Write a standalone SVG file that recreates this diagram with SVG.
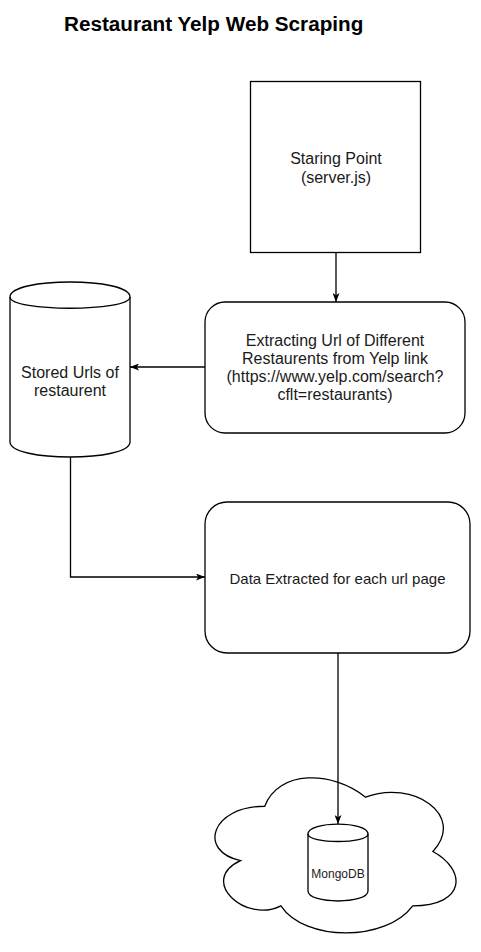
<svg xmlns="http://www.w3.org/2000/svg" width="481" height="952" viewBox="0 0 481 952">
<style>
.shape{fill:#fff;stroke:#000;stroke-width:1.3}
.line{fill:none;stroke:#000;stroke-width:1.3}
.t{font-family:"Liberation Sans",Arial,sans-serif;font-size:16px;fill:#1a1a1a;text-anchor:middle}
.title{font-family:"Liberation Sans",Arial,sans-serif;font-size:20.7px;font-weight:bold;fill:#000}
</style>
<defs>
<marker id="arr" viewBox="0 0 9 7" refX="9" refY="3.5" markerWidth="9" markerHeight="7" markerUnits="userSpaceOnUse" orient="auto">
<path d="M0,0 L9,3.5 L0,7 L2.2,3.5 Z" fill="#000"/>
</marker>
</defs>
<rect width="481" height="952" fill="#fff"/>
<text class="title" x="64" y="31">Restaurant Yelp Web Scraping</text>

<g id="start">
<rect class="shape" x="250.5" y="81.5" width="170" height="171"/>
<text class="t" x="336" y="164">Staring Point</text>
<text class="t" x="336" y="183">(server.js)</text>
</g>

<g id="extract">
<rect class="shape" x="205" y="302" width="260" height="131" rx="20" ry="20"/>
<text class="t" x="335" y="346">Extracting Url of Different</text>
<text class="t" x="335" y="364">Restaurents from Yelp link</text>
<text class="t" x="335" y="382">(https://www.yelp.com/search?</text>
<text class="t" x="335" y="400">cflt=restaurants)</text>
</g>

<g id="stored">
<path class="shape" d="M10,297 C10,277 130,277 130,297 L130,442 C130,462 10,462 10,442 Z"/>
<path class="line" d="M10,297 C10,312 130,312 130,297"/>
<text class="t" x="70" y="378">Stored Urls of</text>
<text class="t" x="70" y="396">restaurent</text>
</g>

<g id="data">
<rect class="shape" x="205" y="502" width="265" height="151" rx="22" ry="22"/>
<text class="t" x="337.5" y="584" style="font-size:15px">Data Extracted for each url page</text>
</g>

<g id="cloud">
<path class="shape" d="M264.75,806.25 C210.95,806.25 197.5,851.5 240.54,860.55 C197.5,880.46 245.92,923.9 280.89,905.8 C305.1,942 385.8,942 412.7,905.8 C466.5,905.8 466.5,869.6 432.9,851.5 C466.5,815.3 412.7,779.1 365.6,797.2 C332,770.05 278.2,770.05 264.75,806.25 Z"/>
</g>

<g id="mongodb">
<path class="shape" d="M308,834 C308,820.7 368,820.7 368,834 L368,891 C368,904.3 308,904.3 308,891 Z"/>
<path class="line" d="M308,834 C308,844 368,844 368,834"/>
<text class="t" x="338" y="878" style="font-size:12px">MongoDB</text>
</g>

<g id="connectors">
<path class="line" d="M336,253 L336,302" marker-end="url(#arr)"/>
<path class="line" d="M205,367 L130,367" marker-end="url(#arr)"/>
<path class="line" d="M70.5,457 L70.5,577 L205,577" marker-end="url(#arr)"/>
<path class="line" d="M338,653 L338,824" marker-end="url(#arr)"/>
</g>
</svg>
